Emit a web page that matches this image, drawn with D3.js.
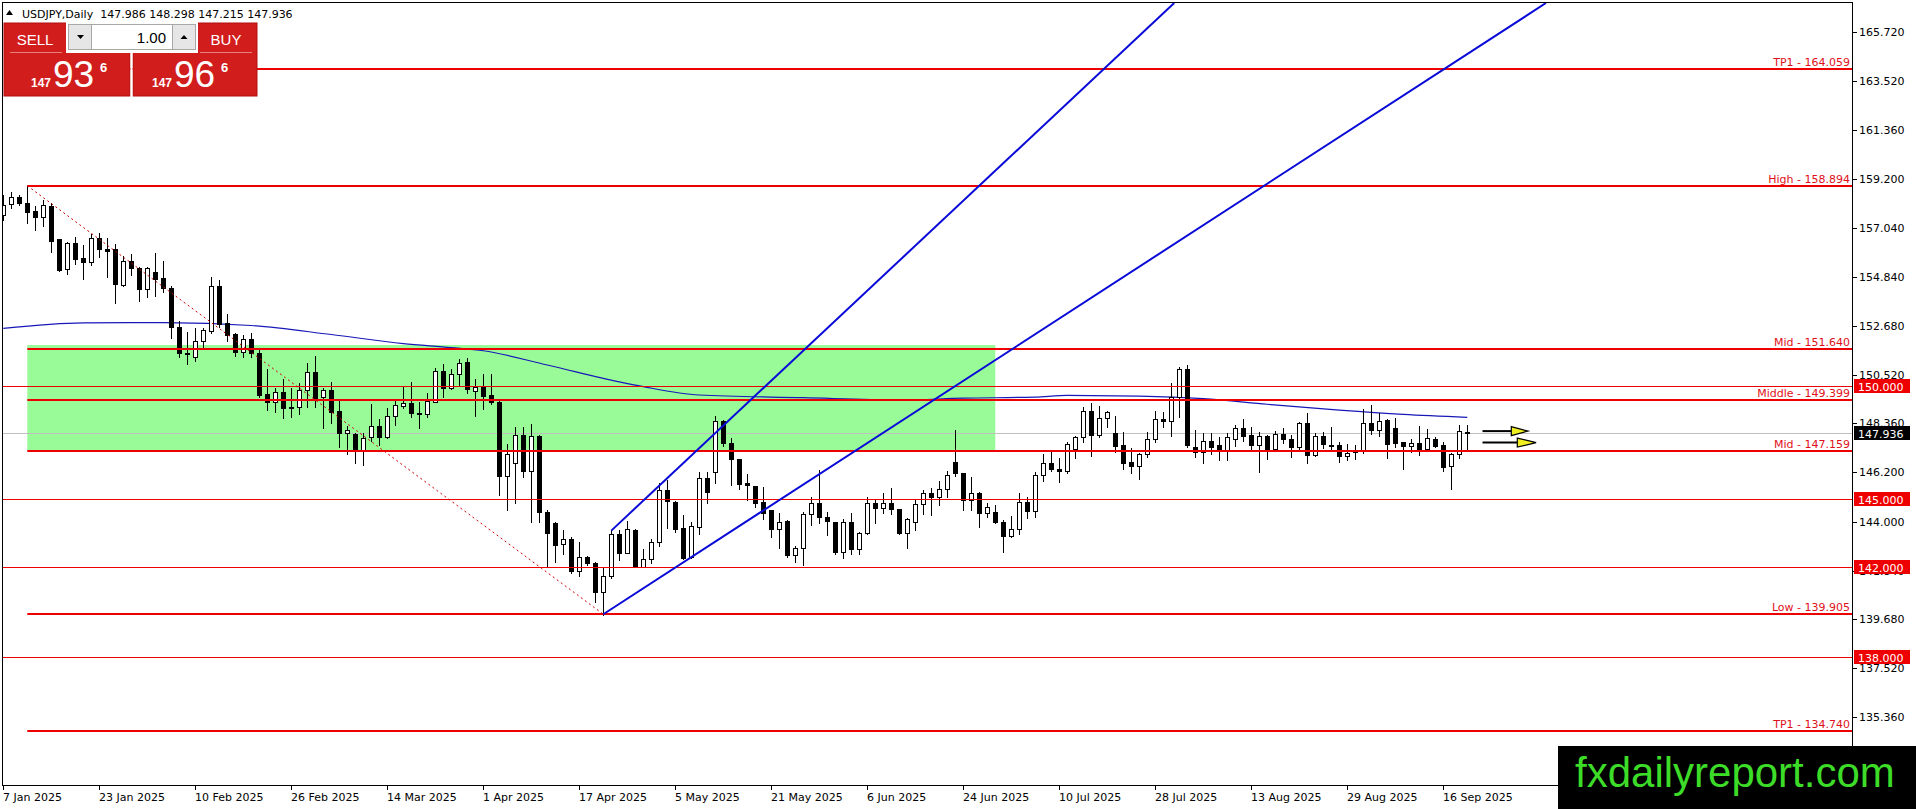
<!DOCTYPE html>
<html>
<head>
<meta charset="utf-8" />
<title>USDJPY, Daily</title>
<script src="https://cdn.jsdelivr.net/npm/d3@7/dist/d3.min.js"></script>
<style>
html, body { margin: 0; padding: 0; background: #fff; }
svg { display: block; font-family: "DejaVu Sans", sans-serif; }
.arial { font-family: "Liberation Sans", Arial, sans-serif; }
</style>
</head>
<body>
<svg id="chart" width="1916" height="809"></svg>
<script>
// daily bars, one per weekday from 7 Jan 2025
var opens = [
  157.60,158.07,158.38,158.11,157.77,157.49,157.99,156.52,155.19,156.34,
  155.69,155.53,156.56,156.10,156.09,154.49,155.57,155.26,154.30,155.06,
  154.79,154.35,152.62,151.50,151.32,152.00,152.47,154.45,152.80,152.32,
  151.51,152.09,151.47,149.65,149.29,149.74,149.09,149.07,149.83,150.62,
  149.52,149.83,148.91,147.95,147.89,147.18,147.74,148.25,147.74,148.69,
  149.15,149.27,148.84,148.78,149.32,150.68,149.92,150.54,151.07,149.80,
  149.99,149.62,149.29,146.04,146.62,147.85,146.27,147.80,144.42,143.93,
  143.00,143.22,141.83,142.43,142.16,140.88,141.60,143.46,142.63,143.64,
  142.01,142.34,143.10,145.41,144.89,143.71,142.46,143.78,145.96,146.22,
  148.47,147.48,146.77,145.71,145.59,144.89,144.52,143.67,144.04,142.53,
  142.82,144.35,144.85,144.20,143.98,142.68,143.98,142.78,143.52,144.85,
  144.60,144.85,144.55,143.49,144.01,144.77,145.26,145.12,145.44,146.67,
  146.15,144.97,145.26,144.38,144.45,144.01,143.37,143.67,144.89,144.49,
  146.06,146.59,146.33,146.24,147.24,147.74,148.91,147.85,148.59,147.95,
  147.40,146.64,146.49,147.00,147.66,148.54,148.45,149.55,150.76,147.33,
  147.11,147.60,147.40,147.15,147.65,148.14,147.85,147.40,147.80,147.21,
  147.89,147.66,147.33,148.39,146.96,147.80,147.40,147.40,146.93,147.08,
  147.18,148.39,148.07,148.51,148.14,147.55,147.38,147.48,147.21,147.67,
  147.40,146.49,146.99,147.986
];
var highs = [
  158.48,158.60,158.48,158.89,157.99,158.25,158.11,156.52,156.39,156.61,
  156.27,156.75,156.78,156.56,156.30,155.78,155.85,155.31,155.31,155.90,
  155.56,154.47,152.91,152.43,152.57,152.60,154.86,154.71,153.21,152.38,
  152.28,152.35,151.60,150.76,149.95,150.33,149.95,150.17,151.02,151.35,
  149.92,150.21,149.35,148.26,147.92,147.95,149.20,148.54,149.03,149.37,
  149.99,150.18,149.32,149.69,150.80,150.99,150.76,151.20,151.25,150.31,
  150.55,150.55,149.35,147.45,148.22,148.22,148.32,147.85,144.52,144.00,
  143.64,143.31,143.09,142.48,142.20,142.01,143.64,143.64,144.05,143.70,
  142.78,143.22,145.73,145.85,144.94,144.30,144.00,146.22,146.22,148.69,
  148.52,147.70,146.77,146.10,145.59,145.56,144.52,144.41,144.08,142.93,
  144.45,145.08,146.30,144.45,144.01,144.11,144.41,143.56,145.09,144.97,
  145.29,145.48,144.55,144.15,145.00,145.41,145.48,145.81,146.25,148.07,
  146.15,145.99,145.34,144.85,144.75,144.08,144.26,145.26,145.11,146.22,
  147.00,147.15,146.81,147.55,147.80,149.07,149.25,149.13,148.93,148.69,
  148.00,147.26,147.06,148.00,148.92,148.88,150.14,150.88,150.95,148.07,
  147.92,147.92,147.74,147.95,148.29,148.54,148.19,147.99,147.85,148.02,
  148.14,147.85,148.44,148.81,147.95,147.99,148.19,147.55,147.45,147.40,
  148.98,149.18,148.81,148.54,148.59,147.55,147.66,148.25,148.10,147.77,
  147.55,147.06,148.29,148.298
];
var lows = [
  157.37,157.92,158.04,157.26,156.93,157.11,155.97,155.13,154.98,155.43,
  154.77,155.38,155.75,154.86,153.71,154.45,154.94,153.80,153.95,154.02,
  154.20,152.13,151.29,150.99,151.14,151.69,152.38,152.65,152.03,151.35,
  151.29,151.29,149.55,148.95,148.85,148.58,148.63,148.76,149.10,149.10,
  148.14,148.39,147.33,147.00,146.62,146.52,147.60,147.40,147.70,148.29,
  149.03,148.63,148.17,148.63,149.29,149.55,149.87,150.06,149.69,148.69,
  148.98,149.22,145.19,144.52,144.85,145.97,144.01,144.01,142.04,142.23,
  142.57,141.72,141.60,142.09,140.46,139.89,141.50,142.31,142.60,141.98,
  141.98,142.16,142.93,143.71,143.56,142.35,142.40,143.46,144.85,145.71,
  147.36,145.63,145.44,144.97,144.67,144.11,143.31,142.82,142.46,142.23,
  142.09,143.86,143.96,143.42,142.57,142.38,142.57,142.57,143.46,143.96,
  144.41,144.35,143.45,142.82,143.64,144.35,144.30,144.75,145.12,146.03,
  144.52,144.52,143.76,144.20,143.95,142.68,143.31,143.46,144.15,144.22,
  145.82,146.27,145.78,146.15,146.81,147.55,146.92,147.74,148.22,147.11,
  146.33,146.15,145.88,146.86,147.55,148.22,147.80,148.66,147.30,146.89,
  146.62,147.00,146.74,146.74,147.36,147.60,147.15,146.22,146.77,147.18,
  147.51,146.89,147.18,146.59,146.92,147.26,147.18,146.67,146.74,146.78,
  147.06,147.89,147.80,146.84,147.30,146.33,147.11,146.96,147.18,147.30,
  146.27,145.45,146.81,147.215
];
var closes = [
  158.04,158.38,158.11,157.74,157.49,158.02,156.46,155.16,156.34,155.66,
  155.51,156.56,156.07,155.99,154.52,155.56,155.23,154.30,155.23,154.77,
  154.35,152.62,151.47,151.44,152.01,152.50,154.45,152.77,152.28,151.51,
  152.09,151.47,149.62,149.29,149.74,149.03,149.03,149.83,150.62,149.47,
  149.83,148.88,147.95,148.05,147.18,147.70,148.25,147.74,148.69,149.16,
  149.27,148.81,148.76,149.35,150.68,149.92,150.54,151.02,149.87,149.96,
  149.59,149.29,146.04,147.00,147.85,146.27,147.80,144.42,143.49,142.97,
  143.22,141.83,142.43,142.16,140.88,141.60,143.46,142.60,143.67,142.01,
  142.34,143.10,145.41,144.94,143.67,142.38,143.81,145.93,145.33,148.47,
  147.48,146.77,145.68,145.65,144.85,144.41,143.67,144.01,142.53,142.82,
  144.35,144.85,144.20,144.05,142.68,143.98,142.78,143.52,144.85,144.60,
  144.85,144.55,143.49,144.11,144.77,145.26,145.12,145.44,146.07,146.15,
  144.97,145.26,144.38,144.64,144.01,143.37,143.67,144.89,144.49,146.06,
  146.59,146.33,146.24,147.43,147.74,148.91,147.85,148.59,148.87,147.36,
  146.62,146.49,146.99,147.66,148.54,148.45,149.55,150.76,147.40,147.11,
  147.60,147.33,147.15,147.74,148.14,147.82,147.40,147.80,147.21,147.89,
  147.66,147.33,148.39,146.96,147.80,147.43,147.36,146.92,147.04,147.18,
  148.36,148.07,148.48,147.43,147.51,147.36,147.48,147.21,147.70,147.36,
  146.44,146.99,148.02,147.936
];

var maBars   = [0, 10, 20, 31, 41, 50, 56, 60, 68, 77, 80, 87, 100, 112, 120, 129, 133, 142, 150, 158, 167, 175, 183];
var maValues = [152.57, 152.82, 152.83, 152.70, 152.30, 151.90, 151.72, 151.58, 150.95, 150.20, 149.99, 149.62,
                149.50, 149.40, 149.48, 149.53, 149.60, 149.57, 149.46, 149.21, 148.95, 148.76, 148.63];

var priceTicks = [165.72, 163.52, 161.36, 159.20, 157.04, 154.84, 152.68, 150.52, 148.36, 146.20, 144.00, 141.84, 139.68, 137.52, 135.36];
var dateLabels = ["7 Jan 2025", "23 Jan 2025", "10 Feb 2025", "26 Feb 2025", "14 Mar 2025", "1 Apr 2025",
                  "17 Apr 2025", "5 May 2025", "21 May 2025", "6 Jun 2025", "24 Jun 2025", "10 Jul 2025",
                  "28 Jul 2025", "13 Aug 2025", "29 Aug 2025", "16 Sep 2025"];

// drawn objects
var levelNames  = ["TP1", "High", "Mid", "Middle", "Mid", "Low", "TP1"];
var levelValues = [164.059, 158.894, 151.640, 149.399, 147.159, 139.905, 134.740];
var levelStartBar = 3;
var roundLevels = [150, 145, 142, 138];
var lastPrice = 147.936;
var zoneTop = 151.835, zoneBottom = 147.159, zoneFromBar = 3, zoneToBar = 124;
var dropFrom = [3, 158.894], dropTo = [75, 139.905];
var channelStartBar   = [75, 76];
var channelStartPrice = [139.905, 143.61];
var channelRefBar     = [122.09, 98.75];
var channelRefPrice   = [150.73, 151.17];
var arrowPrices = [148.02, 147.51];
var arrowFromBar = [184.9, 184.9];
var arrowBaseBar = [188.5, 189.25];
var arrowTipBar  = [190.6, 191.6];

var header = "USDJPY,Daily  147.986 148.298 147.215 147.936";

// ---- layout ----
var W = 1916, H = 809;
var plot = {left: 2, top: 3, right: 1852, bottom: 785};
var RED = "#ee0000";

var svg = d3.select("#chart");
svg.append("rect").attr("width", W).attr("height", H).attr("fill", "#fff");

var n = opens.length;
var x = d3.scaleLinear().domain([0, n - 1]).range([3.3, 3.3 + 8 * (n - 1)]);
var y = d3.scaleLinear().domain([165.72, 139.68]).range([31.7, 619.3]);
var px = function (i) { return Math.round(x(i)); };
var py = function (p) { return Math.round(y(p)); };

var dates = [];
for (var d = new Date(2025, 0, 7); dates.length < n; d = d3.timeDay.offset(d, 1)) {
  if (d.getDay() !== 0 && d.getDay() !== 6) dates.push(d);
}
var fmt = d3.timeFormat("%-d %b %Y");

svg.append("clipPath").attr("id", "clip").append("rect")
  .attr("x", plot.left).attr("y", plot.top)
  .attr("width", plot.right - plot.left).attr("height", plot.bottom - plot.top);
var g = svg.append("g").attr("clip-path", "url(#clip)");

// green zone
g.append("rect")
  .attr("x", x(zoneFromBar)).attr("y", y(zoneTop))
  .attr("width", x(zoneToBar) - x(zoneFromBar)).attr("height", y(zoneBottom) - y(zoneTop))
  .attr("fill", "#98fb98");

// current price line
g.append("line").attr("x1", plot.left).attr("x2", plot.right)
  .attr("y1", py(lastPrice) + 0.5).attr("y2", py(lastPrice) + 0.5)
  .attr("stroke", "#c0c0c0").attr("stroke-width", 1);

// moving average
g.append("path")
  .datum(d3.range(maBars.length))
  .attr("fill", "none").attr("stroke", "#1818b8").attr("stroke-width", 1.2)
  .attr("d", d3.line().x(function (k) { return x(maBars[k]); })
                      .y(function (k) { return y(maValues[k]); })
                      .curve(d3.curveMonotoneX));

// candles
var idx = d3.range(n);
var cg = g.append("g").attr("shape-rendering", "crispEdges");
cg.selectAll("line.wick").data(idx).enter().append("line")
  .attr("x1", function (i) { return px(i) + 0.5; })
  .attr("x2", function (i) { return px(i) + 0.5; })
  .attr("y1", function (i) { return py(highs[i]); })
  .attr("y2", function (i) { return py(lows[i]) + 1; })
  .attr("stroke", "#000").attr("stroke-width", 1);
cg.selectAll("rect.body").data(idx).enter().append("rect")
  .attr("x", function (i) { return px(i) - 2 + 0.5; })
  .attr("width", 4)
  .attr("y", function (i) { return py(Math.max(opens[i], closes[i])) + 0.5; })
  .attr("height", function (i) {
    return Math.max(1, py(Math.min(opens[i], closes[i])) - py(Math.max(opens[i], closes[i])));
  })
  .attr("fill", function (i) { return closes[i] >= opens[i] ? "#fff" : "#000"; })
  .attr("stroke", "#000").attr("stroke-width", 1);

// round number lines
g.selectAll("line.round").data(roundLevels).enter().append("line")
  .attr("x1", plot.left).attr("x2", plot.right)
  .attr("y1", function (v) { return py(v) + 0.5; })
  .attr("y2", function (v) { return py(v) + 0.5; })
  .attr("stroke", RED).attr("stroke-width", 1);

// named levels
g.selectAll("line.level").data(levelValues).enter().append("line")
  .attr("x1", x(levelStartBar)).attr("x2", plot.right)
  .attr("y1", function (v) { return py(v); })
  .attr("y2", function (v) { return py(v); })
  .attr("stroke", RED).attr("stroke-width", 2);
g.selectAll("text.level").data(levelValues).enter().append("text")
  .attr("x", plot.right - 2)
  .attr("y", function (v) { return py(v) - 3; })
  .attr("text-anchor", "end").attr("font-size", 11).attr("fill", "#e0101a")
  .text(function (v, k) { return levelNames[k] + " - " + v.toFixed(3); });

// dotted drop line
g.append("line")
  .attr("x1", x(dropFrom[0])).attr("y1", y(dropFrom[1]))
  .attr("x2", x(dropTo[0])).attr("y2", y(dropTo[1]))
  .attr("stroke", "#d00000").attr("stroke-width", 1).attr("stroke-dasharray", "2,3");

// rising channel rays
channelStartBar.forEach(function (b, k) {
  var x1 = x(b), y1 = y(channelStartPrice[k]);
  var x2 = x(channelRefBar[k]), y2 = y(channelRefPrice[k]);
  var slope = (y2 - y1) / (x2 - x1);
  var xe = x1 + (plot.top - y1) / slope;
  g.append("line").attr("x1", x1).attr("y1", y1).attr("x2", xe).attr("y2", plot.top)
    .attr("stroke", "#0a0ad8").attr("stroke-width", 2);
});

// arrows
arrowPrices.forEach(function (p, k) {
  var yy = y(p);
  g.append("line").attr("x1", x(arrowFromBar[k])).attr("x2", x(arrowBaseBar[k]))
    .attr("y1", yy).attr("y2", yy).attr("stroke", "#000").attr("stroke-width", 2);
  g.append("polygon")
    .attr("points", [[x(arrowBaseBar[k]), yy - 4.5], [x(arrowTipBar[k]), yy], [x(arrowBaseBar[k]), yy + 4.5]].join(" "))
    .attr("fill", "#f0f020").attr("stroke", "#000").attr("stroke-width", 1.2);
});

// frame
svg.append("rect")
  .attr("x", plot.left + 0.5).attr("y", plot.top - 0.5)
  .attr("width", plot.right - plot.left).attr("height", plot.bottom - plot.top + 1)
  .attr("fill", "none").attr("stroke", "#000").attr("stroke-width", 1)
  .attr("shape-rendering", "crispEdges");

// price axis
var ax = svg.append("g").attr("shape-rendering", "crispEdges");
ax.selectAll("line.tick").data(priceTicks).enter().append("line")
  .attr("x1", plot.right + 0.5).attr("x2", plot.right + 4.5)
  .attr("y1", function (v) { return py(v) + 0.5; })
  .attr("y2", function (v) { return py(v) + 0.5; })
  .attr("stroke", "#000");
svg.selectAll("text.ptick").data(priceTicks).enter().append("text")
  .attr("x", 1859).attr("y", function (v) { return y(v) + 4; })
  .attr("font-size", 11).attr("fill", "#000")
  .text(function (v) { return v.toFixed(3); });

// price tags
var tags = roundLevels.map(function (v) { return {v: v, bg: RED}; })
  .concat([{v: lastPrice, bg: "#000"}]);
var tg = svg.selectAll("g.tag").data(tags).enter().append("g");
tg.append("rect").attr("x", 1854).attr("y", function (t) { return py(t.v) - 7; })
  .attr("width", 56).attr("height", 14).attr("fill", function (t) { return t.bg; });
tg.append("text").attr("x", 1858).attr("y", function (t) { return py(t.v) + 4.5; })
  .attr("font-size", 11).attr("fill", "#fff")
  .text(function (t) { return t.v.toFixed(3); });

// time axis
var tickBars = dateLabels.map(function (s) {
  return dates.findIndex(function (dd) { return fmt(dd) === s; });
});
ax.selectAll("line.ttick").data(tickBars).enter().append("line")
  .attr("x1", function (i) { return px(i) + 0.5; })
  .attr("x2", function (i) { return px(i) + 0.5; })
  .attr("y1", plot.bottom).attr("y2", plot.bottom + 5)
  .attr("stroke", "#000");
svg.selectAll("text.ttick").data(tickBars).enter().append("text")
  .attr("x", function (i) { return px(i); }).attr("y", 801)
  .attr("font-size", 11).attr("fill", "#000")
  .text(function (i, k) { return dateLabels[k]; });

// header
svg.append("polygon").attr("points", "6,15 9.5,10 13,15").attr("fill", "#000");
svg.append("text").attr("x", 22).attr("y", 18).attr("font-size", 11).attr("fill", "#000")
  .style("white-space", "pre").text(header);

// one-click trading panel
var panel = svg.append("g").attr("class", "arial");
panel.append("rect").attr("x", 4).attr("y", 23).attr("width", 126).attr("height", 73)
  .attr("fill", "#d21d1d").attr("stroke", "#b01010");
panel.append("rect").attr("x", 133).attr("y", 23).attr("width", 124).attr("height", 73)
  .attr("fill", "#d21d1d").attr("stroke", "#b01010");
panel.append("rect").attr("x", 66).attr("y", 22).attr("width", 132).attr("height", 31).attr("fill", "#fff");
panel.append("rect").attr("x", 68.5).attr("y", 24.5).attr("width", 127).attr("height", 25)
  .attr("fill", "#fff").attr("stroke", "#a8a8a8");
panel.append("rect").attr("x", 68.5).attr("y", 24.5).attr("width", 23).attr("height", 25)
  .attr("fill", "#e6e6e6").attr("stroke", "#a8a8a8");
panel.append("rect").attr("x", 172.5).attr("y", 24.5).attr("width", 23).attr("height", 25)
  .attr("fill", "#e6e6e6").attr("stroke", "#a8a8a8");
panel.append("polygon").attr("points", "77,35 84,35 80.5,39").attr("fill", "#000");
panel.append("polygon").attr("points", "180.5,39 187.5,39 184,35").attr("fill", "#000");
panel.append("text").attr("x", 166).attr("y", 43).attr("text-anchor", "end")
  .attr("font-size", 15).attr("fill", "#000").text("1.00");
panel.append("text").attr("x", 35).attr("y", 45).attr("text-anchor", "middle")
  .attr("font-size", 15).attr("fill", "#fff").text("SELL");
panel.append("text").attr("x", 226).attr("y", 45).attr("text-anchor", "middle")
  .attr("font-size", 15).attr("fill", "#fff").text("BUY");
panel.append("line").attr("x1", 10).attr("x2", 62).attr("y1", 52.5).attr("y2", 52.5).attr("stroke", "#e88080");
panel.append("line").attr("x1", 200).attr("x2", 252).attr("y1", 52.5).attr("y2", 52.5).attr("stroke", "#e88080");
panel.append("line").attr("x1", 131.5).attr("x2", 131.5).attr("y1", 53).attr("y2", 97).attr("stroke", "#fff").attr("stroke-width", 2);

var quotes = [{big: "93", x: 31}, {big: "96", x: 152}];
quotes.forEach(function (q) {
  panel.append("text").attr("x", q.x).attr("y", 87).attr("font-size", 12).attr("font-weight", "bold")
    .attr("fill", "#fff").text("147");
  panel.append("text").attr("x", q.x + 22).attr("y", 87).attr("font-size", 37)
    .attr("fill", "#fff").text(q.big);
  panel.append("text").attr("x", q.x + 69).attr("y", 72).attr("font-size", 13).attr("font-weight", "bold")
    .attr("fill", "#fff").text("6");
});

// site badge
svg.append("rect").attr("x", 1558).attr("y", 746).attr("width", 358).attr("height", 63).attr("fill", "#000");
svg.append("text").attr("class", "arial").attr("x", 1575).attr("y", 787)
  .attr("font-size", 42).attr("fill", "#3cdc28").text("fxdailyreport.com");
</script>
</body>
</html>
